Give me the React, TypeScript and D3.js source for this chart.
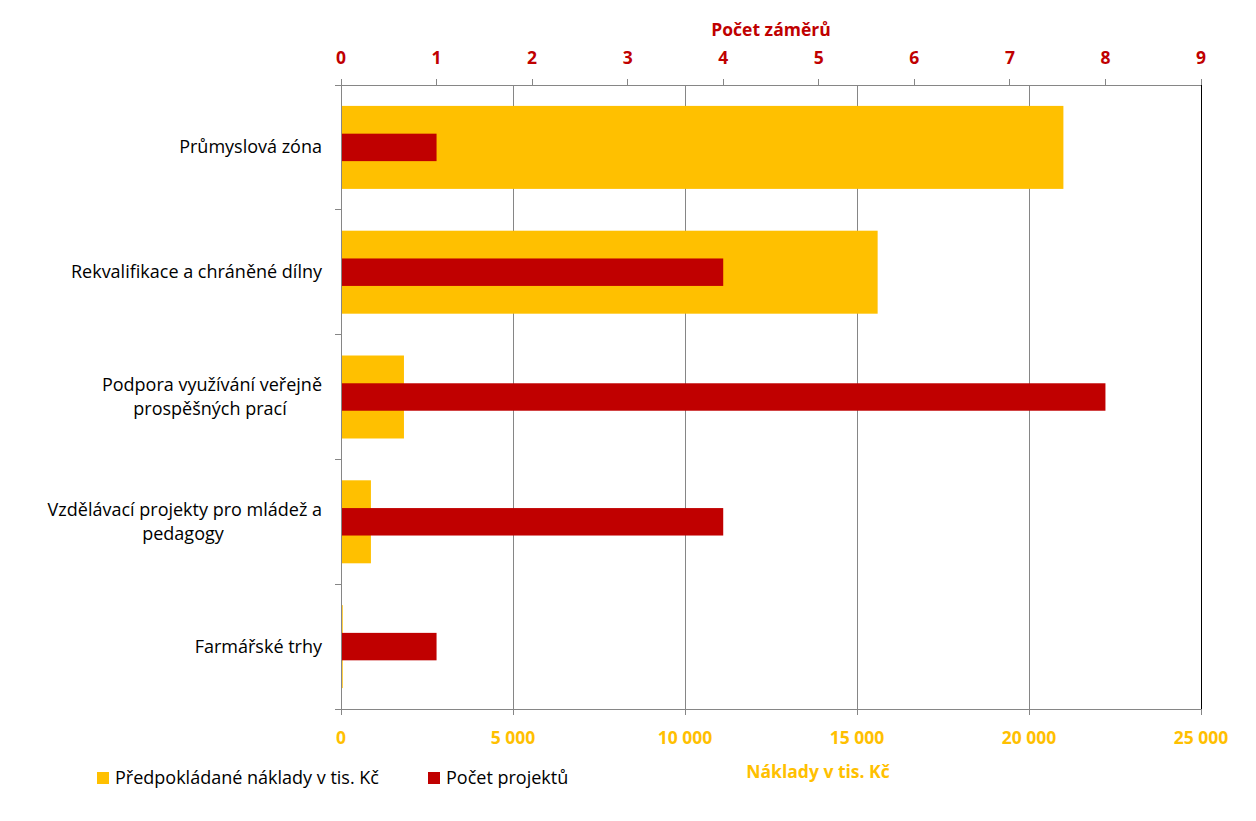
import React from "react";
import * as d3 from "d3";

const categories = [
  ["Průmyslová zóna"],
  ["Rekvalifikace a chráněné dílny"],
  ["Podpora využívání veřejně", "prospěšných prací"],
  ["Vzdělávací projekty pro mládež a", "pedagogy"],
  ["Farmářské trhy"],
];
const costs = [21000, 15600, 1830, 870, 50];
const counts = [1, 4, 8, 4, 1];
const costTicks = [0, 5000, 10000, 15000, 20000, 25000];
const countTicks = [0, 1, 2, 3, 4, 5, 6, 7, 8, 9];

const ORANGE = "#FFC000";
const RED = "#C00000";
const GRID = "#868686";
const FONT = "'Open Sans', Lato, sans-serif";

export default function App() {
  const W = 1256, H = 821;
  const left = 341, right = 1201, top = 85, bottom = 709;
  const xCost = d3.scaleLinear().domain([0, 25000]).range([left, right]);
  const xCount = d3.scaleLinear().domain([0, 9]).range([left, right]);
  const y = d3.scaleBand<number>().domain(d3.range(categories.length)).range([top, bottom]);
  const bw = y.bandwidth();
  const fmt = (v: number) => d3.format(",")(v).replace(/,/g, " ");
  const FS = 18;
  const FB = 17.5;

  return (
    <svg width={W} height={H} style={{ position: "absolute", left: 0, top: 0 }} fontFamily={FONT}>
      <rect width={W} height={H} fill="#fff" />
      {costTicks.slice(1, -1).map((t) => (
        <line key={"g" + t} x1={xCost(t)} x2={xCost(t)} y1={top} y2={bottom} stroke={GRID} strokeWidth={1} shapeRendering="crispEdges" />
      ))}
      {costs.map((c, i) => {
        const h = bw * 0.665;
        return (
          <rect key={"c" + i} x={xCost(0)} y={(y(i) as number) + (bw - h) / 2} width={Math.max(xCost(c) - xCost(0), 0)} height={h} fill={ORANGE} />
        );
      })}
      {counts.map((c, i) => {
        const h = bw * 0.22;
        return (
          <rect key={"n" + i} x={xCount(0)} y={(y(i) as number) + (bw - h) / 2} width={xCount(c) - xCount(0)} height={h} fill={RED} />
        );
      })}
      <line x1={left - 6} x2={right} y1={top} y2={top} stroke={GRID} shapeRendering="crispEdges" />
      <line x1={left - 6} x2={right} y1={bottom} y2={bottom} stroke={GRID} shapeRendering="crispEdges" />
      <line x1={left} x2={left} y1={top} y2={bottom + 6} stroke={GRID} shapeRendering="crispEdges" />
      <line x1={right} x2={right} y1={top} y2={bottom} stroke="#000" shapeRendering="crispEdges" />
      {d3.range(categories.length + 1).map((i) => (
        <line key={"lt" + i} x1={left - 6} x2={left} y1={top + i * bw} y2={top + i * bw} stroke={GRID} shapeRendering="crispEdges" />
      ))}
      {countTicks.map((t) => (
        <g key={"tt" + t}>
          <line x1={xCount(t)} x2={xCount(t)} y1={top - 6} y2={top} stroke={GRID} shapeRendering="crispEdges" />
          <text x={xCount(t)} y={64} textAnchor="middle" fill={RED} fontWeight="bold" fontSize={FB}>{t}</text>
        </g>
      ))}
      <text x={771} y={36} textAnchor="middle" fill={RED} fontWeight="bold" fontSize={FB}>Počet záměrů</text>
      {costTicks.map((t) => (
        <g key={"bt" + t}>
          <line x1={xCost(t)} x2={xCost(t)} y1={bottom} y2={bottom + 6} stroke={GRID} shapeRendering="crispEdges" />
          <text x={xCost(t)} y={744} textAnchor="middle" fill={ORANGE} fontWeight="bold" fontSize={FB}>{fmt(t)}</text>
        </g>
      ))}
      <text x={818} y={778} textAnchor="middle" fill={ORANGE} fontWeight="bold" fontSize={FB}>Náklady v tis. Kč</text>
      {categories.map((lines, i) => {
        const cy = (y(i) as number) + bw / 2;
        const lh = 24;
        const y0 = cy - ((lines.length - 1) * lh) / 2 + 6;
        if (lines.length === 1) {
          return (
            <text key={"cl" + i} x={322} y={y0} textAnchor="end" fill="#000" fontSize={FS}>{lines[0]}</text>
          );
        }
        const cx = i === 2 ? 210 : 183;
        return (
          <g key={"cl" + i}>
            <text x={322} y={y0} textAnchor="end" fill="#000" fontSize={FS}>{lines[0]}</text>
            <text x={cx} y={y0 + lh} textAnchor="middle" fill="#000" fontSize={FS}>{lines[1]}</text>
          </g>
        );
      })}
      <rect x={97} y={772} width={12} height={12} fill={ORANGE} />
      <text x={115} y={784} fill="#000" fontSize={FS}>Předpokládané náklady v tis. Kč</text>
      <rect x={428} y={772} width={12} height={12} fill={RED} />
      <text x={446} y={784} fill="#000" fontSize={FS}>Počet projektů</text>
    </svg>
  );
}
